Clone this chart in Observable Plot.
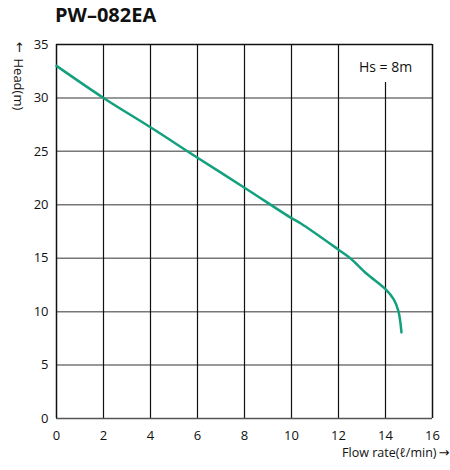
<!DOCTYPE html>
<html>
<head>
<meta charset="utf-8">
<script src="https://cdn.jsdelivr.net/npm/d3@7"></script>
<script src="https://cdn.jsdelivr.net/npm/@observablehq/plot@0.6"></script>
<style>
  html, body { margin: 0; padding: 0; background: #fff; }
  #title { height: 34px; box-sizing: border-box; padding: 5px 0 0 55px; font: bold 20px/20px "Open Sans", sans-serif; color: #111; }
  #chart svg { display: block; }
</style>
</head>
<body>
<div id="title">PW–082EA</div>
<div id="chart"></div>
<script>
const flow = [0, 2, 4, 6, 8, 10, 10.4, 12, 12.5, 13.2, 14, 14.35, 14.55, 14.68];
const head = [33, 30, 27.25, 24.4, 21.6, 18.75, 18.25, 15.8, 15.0, 13.55, 12.1, 11.15, 10.05, 8.05];
const xTicks = [0, 2, 4, 6, 8, 10, 12, 14, 16];
const yTicks = [0, 5, 10, 15, 20, 25, 30, 35];
const hsLabel = "Hs = 8m";
const hsFlow = 14;
const hsTop = 31.45;
const hsLabelY = 32.85;

const data = flow.map((f, i) => ({flow: f, head: head[i]}));
const vGrid = xTicks.filter(t => t > 0 && t < 16);
const hGrid = yTicks.filter(t => t > 0 && t < 35);

const font = "'Open Sans', sans-serif";
const plot = Plot.plot({
  width: 450,
  height: 436,
  marginTop: 10,
  marginBottom: 52,
  marginLeft: 56,
  marginRight: 18,
  style: {fontFamily: font, fontSize: "13px", color: "#111"},
  x: {domain: [0, 16], ticks: xTicks, tickSize: 0, tickPadding: 12, label: null},
  y: {domain: [0, 35], ticks: yTicks, tickSize: 0, tickPadding: 8, label: null},
  marks: [
    Plot.ruleY(hGrid, {stroke: "#777", strokeWidth: 1.5}),
    Plot.ruleX(vGrid.map(v => ({x: v, top: v === hsFlow ? hsTop : 35})), {x: "x", y1: 0, y2: "top", stroke: "#111", strokeWidth: 1.2}),
    Plot.ruleY([0], {stroke: "#555", strokeWidth: 1.5}),
    Plot.ruleX([0, 16], {stroke: "#111", strokeWidth: 1.5}),
    Plot.ruleY([35], {stroke: "#111", strokeWidth: 1.5}),
    Plot.line(data, {x: "flow", y: "head", stroke: "#12a07e", strokeWidth: 2.5, curve: "catmull-rom"}),
    Plot.text([hsLabel], {x: hsFlow, y: hsLabelY, text: d => d, fontSize: 14, fill: "#111"}),
    Plot.text(["Flow rate(ℓ/min)"], {frameAnchor: "bottom-right", dx: 4, dy: 38, textAnchor: "end", fontSize: 12.5, fill: "#111"}),
    Plot.text(["→"], {frameAnchor: "bottom-right", dx: 6, dy: 38, textAnchor: "start", fontSize: 13, fontFamily: "DejaVu Sans", fill: "#111"}),
    Plot.text(["Head(m)"], {frameAnchor: "top-left", dx: -38, dy: 14, rotate: 90, textAnchor: "start", lineAnchor: "middle", fontSize: 13, fill: "#111"}),
    Plot.text(["↑"], {frameAnchor: "top-left", dx: -37, dy: 3, textAnchor: "middle", lineAnchor: "middle", fontSize: 13, fontFamily: "DejaVu Sans", fill: "#111"})
  ]
});
document.getElementById("chart").appendChild(plot);
</script>
</body>
</html>
